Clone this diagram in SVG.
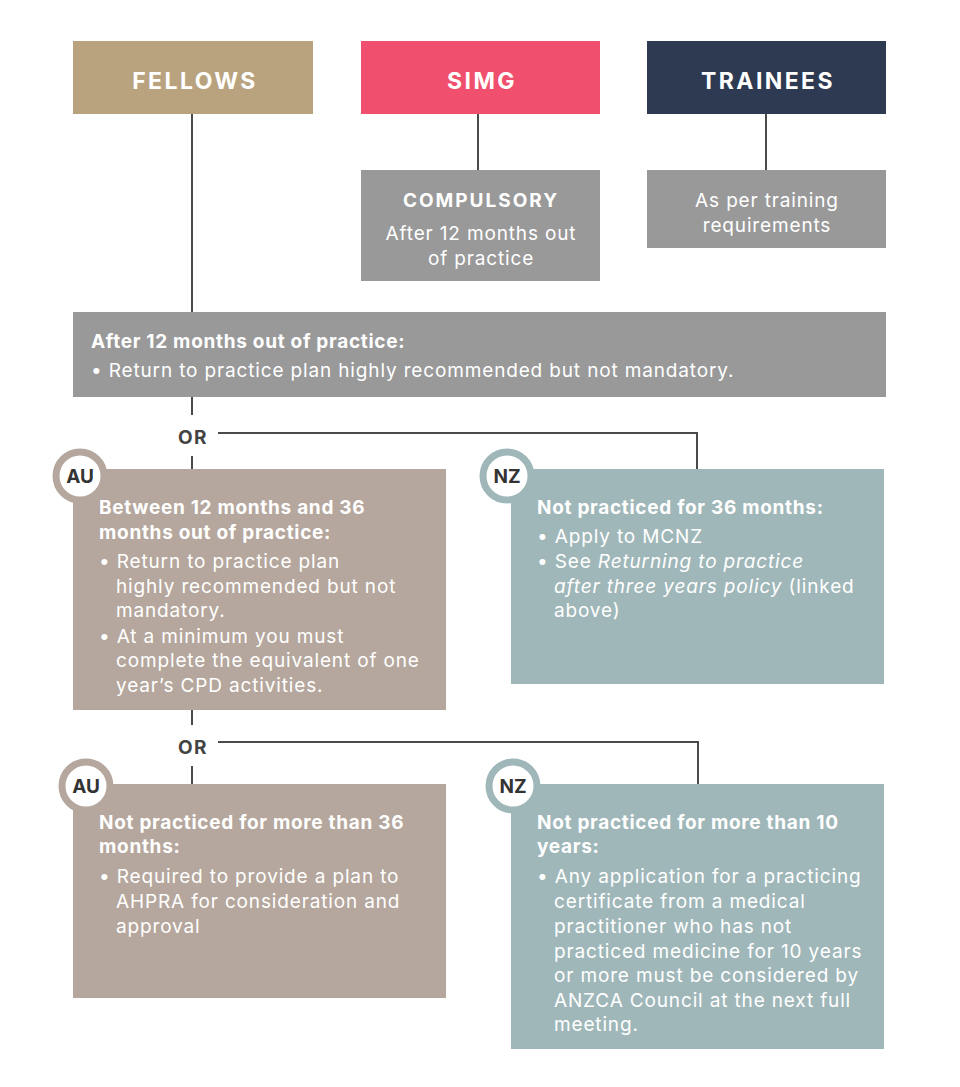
<svg xmlns="http://www.w3.org/2000/svg" width="960" height="1087" viewBox="0 0 960 1087">
<style>
.hd{font-family:Inter,"Liberation Sans",sans-serif;font-weight:700;font-size:23px;fill:#fff;letter-spacing:2.4px;text-anchor:middle}
.t{font-family:Inter,"Liberation Sans",sans-serif;font-size:19px;fill:#fff;letter-spacing:0.85px}
.b{font-family:Inter,"Liberation Sans",sans-serif;font-size:19px;fill:#fff;font-weight:700;letter-spacing:0.7px}
.c{text-anchor:middle}
.or{font-family:Inter,"Liberation Sans",sans-serif;font-size:19px;font-weight:700;fill:#444;text-anchor:middle;letter-spacing:1.5px}
.ln{stroke:#4a4a4a;stroke-width:2;fill:none}
.badge{font-family:Inter,"Liberation Sans",sans-serif;font-size:19px;font-weight:700;fill:#333;text-anchor:middle}
</style>
<rect width="960" height="1087" fill="#fff"/>
<g id="connectors">
<path class="ln" d="M192 114V312"/>
<path class="ln" d="M478 114V170"/>
<path class="ln" d="M766 114V170"/>
<path class="ln" d="M192 397V415M192 456V469"/>
<path class="ln" d="M218 433H697V469"/>
<path class="ln" d="M192 710V725M192 766V784"/>
<path class="ln" d="M218 742H698V784"/>
</g>
<g id="or1"><text class="or" x="193" y="444">OR</text></g>
<g id="or2"><text class="or" x="193" y="754">OR</text></g>
<g id="fellows"><rect x="73" y="41" width="240" height="73" fill="#b9a37f"/><text class="hd" x="195" y="89">FELLOWS</text></g>
<g id="simg"><rect x="361" y="41" width="239" height="73" fill="#f04f6e"/><text class="hd" x="482" y="89">SIMG</text></g>
<g id="trainees"><rect x="647" y="41" width="239" height="73" fill="#2e3a52"/><text class="hd" x="768" y="89">TRAINEES</text></g>
<g id="compulsory"><rect x="361" y="170" width="239" height="111" fill="#999"/>
<text class="b c" x="481" y="207" style="letter-spacing:2px">COMPULSORY</text>
<text class="t c" x="481" y="240">After 12 months out</text>
<text class="t c" x="481" y="265">of practice</text></g>
<g id="training"><rect x="647" y="170" width="239" height="78" fill="#999"/>
<text class="t c" x="767" y="207">As per training</text>
<text class="t c" x="767" y="232">requirements</text></g>
<g id="after12"><rect x="73" y="312" width="813" height="85" fill="#999"/>
<text class="b" x="91" y="348">After 12 months out of practice:</text>
<text class="t" x="91" y="377">• Return to practice plan highly recommended but not mandatory.</text></g>
<g id="au1"><rect x="73" y="469" width="373" height="241" fill="#b5a79d"/>
<circle cx="80" cy="476" r="24" fill="#fff" stroke="#b5a79d" stroke-width="7"/>
<text class="badge" x="80" y="483">AU</text>
<text class="b" x="99" y="514">Between 12 months and 36</text>
<text class="b" x="99" y="539">months out of practice:</text>
<text class="t" x="99" y="568">• Return to practice plan</text>
<text class="t" x="116" y="593">highly recommended but not</text>
<text class="t" x="116" y="617">mandatory.</text>
<text class="t" x="99" y="643">• At a minimum you must</text>
<text class="t" x="116" y="667">complete the equivalent of one</text>
<text class="t" x="116" y="692">year’s CPD activities.</text></g>
<g id="nz1"><rect x="511" y="469" width="373" height="215" fill="#9fb7b9"/>
<circle cx="507" cy="476" r="24" fill="#fff" stroke="#9fb7b9" stroke-width="7"/>
<text class="badge" x="507" y="483">NZ</text>
<text class="b" x="537" y="514">Not practiced for 36 months:</text>
<text class="t" x="537" y="543">• Apply to MCNZ</text>
<text class="t" x="537" y="568">• See <tspan font-style="italic">Returning to practice</tspan></text>
<text class="t" x="554" y="593"><tspan font-style="italic">after three years policy</tspan> (linked</text>
<text class="t" x="554" y="617">above)</text></g>
<g id="au2"><rect x="73" y="784" width="373" height="214" fill="#b5a79d"/>
<circle cx="86" cy="786" r="24" fill="#fff" stroke="#b5a79d" stroke-width="7"/>
<text class="badge" x="86" y="793">AU</text>
<text class="b" x="99" y="829">Not practiced for more than 36</text>
<text class="b" x="99" y="853">months:</text>
<text class="t" x="99" y="883">• Required to provide a plan to</text>
<text class="t" x="116" y="908">AHPRA for consideration and</text>
<text class="t" x="116" y="933">approval</text></g>
<g id="nz2"><rect x="511" y="784" width="373" height="265" fill="#9fb7b9"/>
<circle cx="513" cy="786" r="24" fill="#fff" stroke="#9fb7b9" stroke-width="7"/>
<text class="badge" x="513" y="793">NZ</text>
<text class="b" x="537" y="829">Not practiced for more than 10</text>
<text class="b" x="537" y="853">years:</text>
<text class="t" x="537" y="883">• Any application for a practicing</text>
<text class="t" x="554" y="908">certificate from a medical</text>
<text class="t" x="554" y="933">practitioner who has not</text>
<text class="t" x="554" y="958">practiced medicine for 10 years</text>
<text class="t" x="554" y="982">or more must be considered by</text>
<text class="t" x="554" y="1007">ANZCA Council at the next full</text>
<text class="t" x="554" y="1031">meeting.</text></g>
</svg>
